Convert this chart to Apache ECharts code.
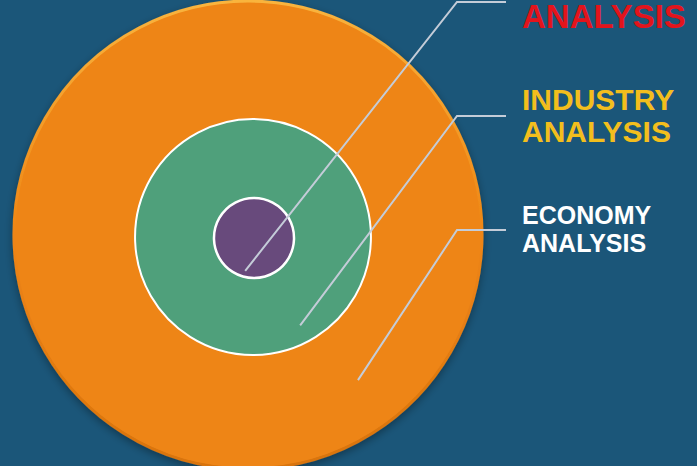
<!DOCTYPE html>
<html><head><meta charset="utf-8">
<script src="https://cdn.jsdelivr.net/npm/echarts@6/dist/echarts.min.js"></script>
<style>html,body{margin:0;padding:0;background:#1b5679;overflow:hidden}#c{width:697px;height:466px}</style>
</head><body><div id="c"></div>
<script>
// ---- data ----
const levels = ['ECONOMY ANALYSIS', 'INDUSTRY ANALYSIS', 'COMPANY ANALYSIS'];
const ringSize = [100, 50.4, 17.1];   // relative radius of each ring (%)
const levelValues = [1, 1, 1];

// ---- styles / layout ----
const fills = ['#ee8514', '#4fa07b', '#684a7c'];
const textColors = ['#ffffff', '#f3be1d', '#e3141c'];
const fontSizes = [25, 30, 33];
const lineHeights = [28, 32, 36];
const centers = [[248, 235], [253, 237], [254, 238]];
const maxR = 234;
const startFrac = [[0.47, 0.62], [0.40, 0.75], [-0.22, 0.82]];
const elbowY = [230, 116, 2];
const elbowX = 457, lineEndX = 506, labelX = 522;
const labelY = [229, 115, -1.5];

const chart = echarts.init(document.getElementById('c'), null, { renderer: 'svg' });

const itemStyles = [
  {
    color: fills[0],
    borderWidth: 3,
    borderColor: { type: 'linear', x: 0, y: 0, x2: 0, y2: 1, colorStops: [
      { offset: 0, color: '#f9b43e' }, { offset: 0.5, color: '#ee8514' }, { offset: 1, color: '#d8730f' }] },
    shadowColor: 'rgba(0,0,0,0.35)', shadowBlur: 8, shadowOffsetY: 3
  },
  { color: fills[1], borderColor: '#ffffff', borderWidth: 2 },
  { color: fills[2], borderColor: '#ffffff', borderWidth: 2.5 }
];

const discSeries = levels.map((name, i) => ({
  type: 'pie',
  z: 2 + i,
  center: centers[i],
  radius: [0, maxR * ringSize[i] / 100],
  silent: true,
  startAngle: 90,
  data: [{ name: name, value: levelValues[i] }],
  itemStyle: itemStyles[i],
  label: { show: false },
  labelLine: { show: false }
}));

const labelSeries = levels.map((name, i) => {
  const r = maxR * ringSize[i] / 100;
  const c = centers[i];
  return {
    type: 'pie',
    z: 10 + i,
    center: c,
    radius: [0, r],
    silent: true,
    avoidLabelOverlap: false,
    startAngle: 90,
    data: [{ name: name, value: levelValues[i] }],
    itemStyle: { color: 'rgba(0,0,0,0)', borderWidth: 0 },
    label: {
      show: true,
      position: 'outside',
      formatter: p => p.name.replace(' ', '\n'),
      color: textColors[i],
      fontSize: fontSizes[i],
      lineHeight: lineHeights[i],
      fontWeight: 'bold',
      fontFamily: '"Liberation Sans", Arial, sans-serif',
      align: 'left'
    },
    labelLine: { show: true, length: 10, length2: 10, smooth: false,
      lineStyle: { color: '#c4ccd8', width: 2 } },
    labelLayout: function () {
      const sx = c[0] + startFrac[i][0] * r;
      const sy = c[1] + startFrac[i][1] * r;
      return {
        x: labelX, y: labelY[i], align: 'left', verticalAlign: 'middle',
        labelLinePoints: [[sx, sy], [elbowX, elbowY[i]], [lineEndX, elbowY[i]]]
      };
    }
  };
});

chart.setOption({
  backgroundColor: '#1b5679',
  animation: false,
  series: discSeries.concat(labelSeries)
});
</script>
</body></html>
